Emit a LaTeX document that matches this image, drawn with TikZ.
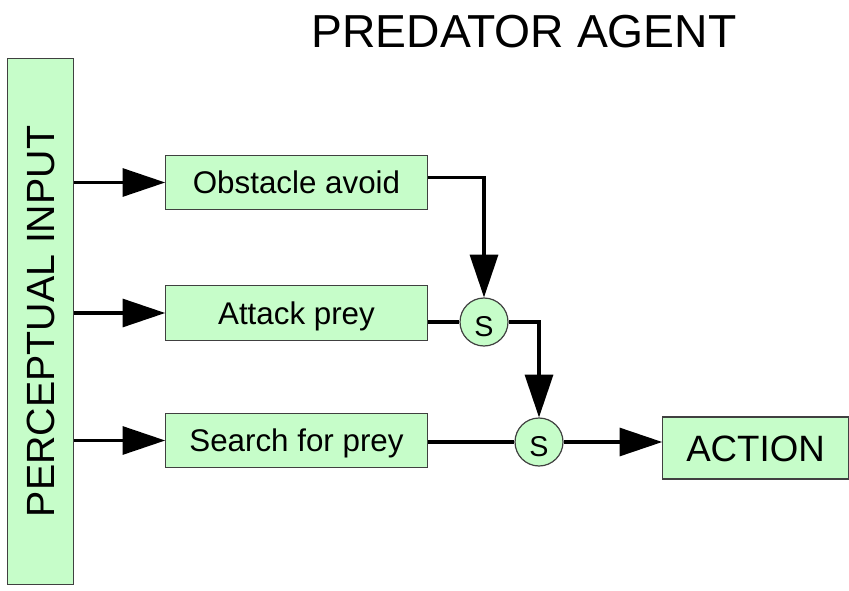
\documentclass[tikz,border=0pt]{standalone}
\usepackage{fontspec}
\setmainfont{Liberation Sans}
\usetikzlibrary{arrows.meta,positioning}
\definecolor{boxgreen}{HTML}{C6FDC9}
\tikzset{
  inbox/.style={rectangle,draw=black!75,fill=boxgreen,line width=0.9pt,inner sep=0pt,text depth=0pt},
  behnode/.style={inbox,minimum width=196pt,minimum height=41pt,text height=16.8pt,
    font=\fontsize{23.5}{26}\selectfont},
  supnode/.style={circle,draw=black!75,fill=boxgreen,line width=0.9pt,minimum size=36pt,inner sep=0pt,
    text height=21pt,text depth=0pt,font=\fontsize{21.5}{24}\selectfont},
  wire/.style={line width=2.3pt},
  flow/.style={wire,-{Triangle[length=32pt,width=21pt]}},
  every picture/.style={line cap=butt,line join=miter}
}

\begin{document}
\begin{tikzpicture}[x=0.75pt,y=0.75pt]
    \useasboundingbox (0,0) rectangle (849,590);
    \node[font=\fontsize{34.7}{40}\selectfont,text height=24.8pt,text depth=0pt] (title) at (524,559) {PREDATOR AGENT};
    \node[rectangle,draw=black!75,fill=boxgreen,line width=0.9pt,inner sep=0pt,
      minimum width=50pt,minimum height=395pt,font=\fontsize{29.5}{33}\selectfont]
      (input) at (40.5,268.5) {\rotatebox{90}{PERCEPTUAL INPUT}};
    \node[behnode] (avoid) at (296.5,407.5) {Obstacle avoid};
    \node[behnode] (attack) at (296.5,277) {Attack prey};
    \node[behnode] (search) at (296.5,149.5) {Search for prey};
    \node[supnode] (s1) at (484,268) {S};
    \node[supnode] (s2) at (539,148) {S};
    \node[inbox,minimum width=139pt,minimum height=46.5pt,text height=19.7pt,
      font=\fontsize{27.5}{31}\selectfont] (action) at (755.5,142) {ACTION};
    \draw[flow] (input.east |- avoid) -- (avoid.west);
    \draw[flow] (input.east |- attack) -- (attack.west);
    \draw[flow] (input.east |- search) -- (search.west);
    \draw[flow] ([yshift=4pt]avoid.east) -| (s1.north);
    \draw[wire] (attack.east |- s1) -- (s1.west);
    \draw[flow] (s1.east) -| (s2.north);
    \draw[wire] (search.east |- s2) -- (s2.west);
    \draw[flow] (s2.east) -- (s2.east -| action.west);
\end{tikzpicture}
\end{document}
